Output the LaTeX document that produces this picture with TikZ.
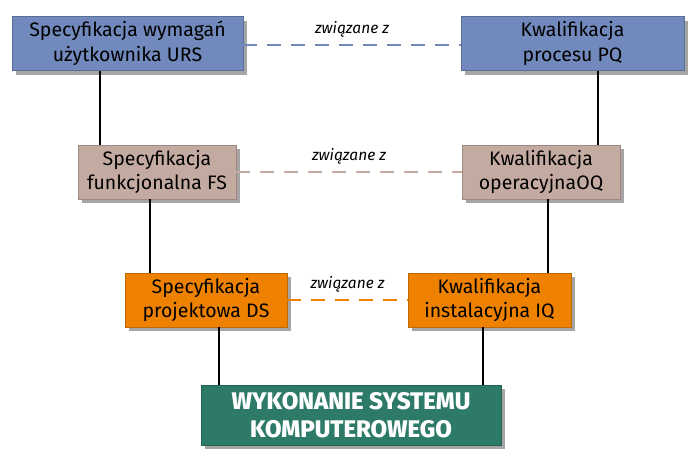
\documentclass[tikz,border=0pt]{standalone}
\usepackage{fontspec}
\setmainfont{Fira Sans}
\newfontfamily\heavyfont{Fira Sans ExtraBold}
\usepackage{tikz}
\usetikzlibrary{shadows}
\usepackage{xcolor}
\definecolor{ursblue}{HTML}{7189BC}
\definecolor{fstan}{HTML}{C4ABA1}
\definecolor{dsorange}{HTML}{EE8200}
\definecolor{wykgreen}{HTML}{2D7A68}

\begin{document}
\begin{tikzpicture}[x=1pt,y=-1pt,
        box/.style={draw=#1!80!black, fill=#1, line width=0.6pt, align=center,
            inner sep=0pt, minimum height=54pt,
            font=\fontsize{19.5}{24.5}\selectfont,
            drop shadow={shadow xshift=4pt, shadow yshift=-4pt, opacity=0.5, fill=black!70}},
        link/.style={line width=1.6pt},
        rel/.style={line width=2.2pt, dash pattern=on 14pt off 10pt, draw=#1},
        relnote/.style={font=\fontsize{15.5}{18}\selectfont\itshape, above=3pt}]
        \useasboundingbox (0,0) rectangle (694,456);

        % left column: specifications
        \node[box=ursblue, minimum width=231pt] (urs) at (127.5,43.5) {Specyfikacja wymagań\\użytkownika URS};
        \node[box=fstan, minimum width=158pt] (fs) at (157,172) {Specyfikacja\\funkcjonalna FS};
        \node[box=dsorange, minimum width=162pt] (ds) at (206,300) {Specyfikacja\\projektowa DS};

        % right column: qualifications
        \node[box=ursblue, minimum width=223pt] (pq) at (572.5,43.5) {Kwalifikacja\\procesu PQ};
        \node[box=fstan, minimum width=158pt] (oq) at (541,172) {Kwalifikacja\\operacyjnaOQ};
        \node[box=dsorange, minimum width=163pt] (iq) at (489.5,300) {Kwalifikacja\\instalacyjna IQ};

        \node[box=wykgreen, minimum width=300pt, minimum height=60pt, text=white,
            font=\fontsize{24}{28}\selectfont\heavyfont] (wyk) at (351,415) {WYKONANIE SYSTEMU\\KOMPUTEROWEGO};

        % vertical links
        \draw[link] ([xshift=-27.5pt]urs.south) -- ([xshift=-57pt]fs.north);
        \draw[link] ([xshift=-7pt]fs.south) -- ([xshift=-56pt]ds.north);
        \draw[link] ([xshift=13pt]ds.south) -- ([xshift=-132pt]wyk.north);
        \draw[link] ([xshift=25.5pt]pq.south) -- ([xshift=57pt]oq.north);
        \draw[link] ([xshift=7pt]oq.south) -- ([xshift=58.5pt]iq.north);
        \draw[link] ([xshift=-6.5pt]iq.south) -- ([xshift=132pt]wyk.north);

        % dashed relations
        \draw[rel=ursblue] ([yshift=-1.5pt]urs.east) -- node[relnote] {związane z} ([yshift=-1.5pt]pq.west);
        \draw[rel=fstan] (fs.east) -- node[relnote] {związane z} (oq.west);
        \draw[rel=dsorange] (ds.east) -- node[relnote] {związane z} (iq.west);
    \end{tikzpicture}
\end{document}
